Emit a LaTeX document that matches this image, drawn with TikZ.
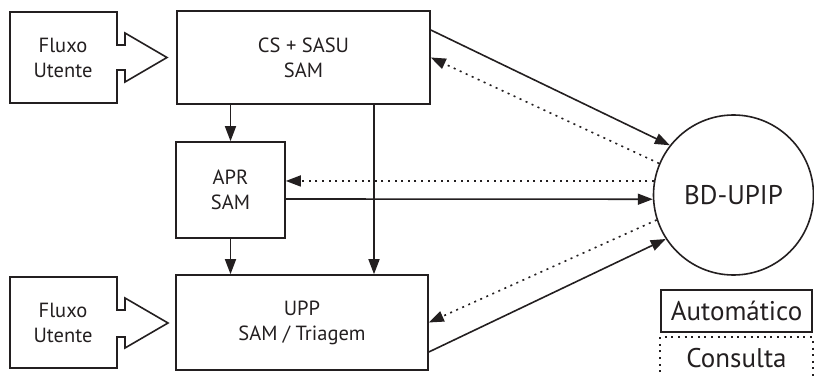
\documentclass[tikz,border=0pt]{standalone}
\usepackage{fontspec}
\setmainfont{PT Sans}
\usetikzlibrary{arrows.meta,calc}
\definecolor{ink}{HTML}{231F20}
\tikzset{
  box/.style={draw=ink, rectangle, inner sep=0pt, align=center, text=ink, font=\fontsize{20.5}{25}\selectfont},
  lbl/.style={inner sep=0pt, align=center, text=ink, font=\fontsize{20.5}{25}\selectfont},
  auto/.style={draw=ink, -{Triangle[length=15pt,width=11pt]}},
  cons/.style={draw=ink, dash pattern=on 2pt off 4.6pt, -{Triangle[length=15pt,width=11pt]}},
  consline/.style={draw=ink, dash pattern=on 2pt off 4.6pt},
  big/.style={font=\fontsize{27}{30}\selectfont, text=ink}
}
\begin{document}
\begin{tikzpicture}[x=1pt,y=-1pt,line width=1.6pt,line join=miter]
\useasboundingbox (0,0) rectangle (814,377);
% Fluxo shapes
\node[lbl] (f1) at (63,58) {Fluxo\\Utente};
\draw[ink] (117,45) -- (125,45) -- (125,33) -- (167,57.5) -- (125,82) -- (125,70) -- (117,70) -- (117,103) -- (10,103) -- (10,12) -- (117,12) -- cycle;
\node[lbl] (f2) at (63,323) {Fluxo\\Utente};
\draw[ink] (117,310) -- (125,310) -- (125,298) -- (168,323) -- (125,348) -- (125,337) -- (117,337) -- (117,368) -- (10,368) -- (10,277) -- (117,277) -- cycle;
% boxes
\node[box, minimum width=253pt, minimum height=93pt] (cs) at (303.5,57.5) {CS + SASU\\SAM};
\node[box, minimum width=109pt, minimum height=96pt] (apr) at (230.5,190) {APR\\SAM};
\node[box, minimum width=252pt, minimum height=95pt] (upp) at (302,322.5) {UPP\\SAM / Triagem};
\node[circle, draw=ink, minimum size=160pt, inner sep=0pt, big] (bd) at (733.5,195) {BD-UPIP};
% vertical connectors
\draw[auto] (cs.south -| apr.north) -- (apr.north);
\draw[auto] (apr.south) -- (apr.south |- upp.north);
\coordinate (v) at ($(cs.south)+(70.5,0)$);
\draw[auto] (v) -- (v |- upp.north);
% database connectors
\draw[auto] ($(cs.east)+(0,-27.5)$) -- (bd.142.5);
\draw[cons] (bd.157) -- (cs.east);
\draw[cons] (bd.170) -- (bd.170 -| apr.east);
\draw[auto] ($(apr.east)+(0,9)$) -- (bd.183);
\draw[cons] (bd.198) -- (upp.east);
\draw[auto] ($(upp.east)+(0,29.5)$) -- (bd.213);
% legend
\node[box, minimum width=151pt, minimum height=42pt, big] (la) at (736.5,311) {Automático};
\node[inner sep=0pt, minimum width=151pt, minimum height=40pt, big] (lc) at (736.5,358) {Consulta};
\draw[consline] (lc.south west) -- (lc.north west) -- (lc.north east) -- (lc.south east);
\end{tikzpicture}
\end{document}
